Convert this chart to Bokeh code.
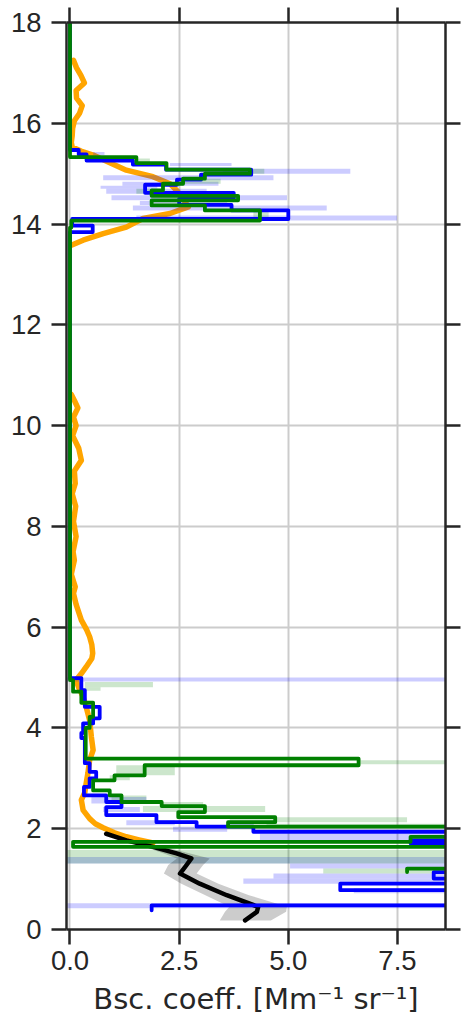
from bokeh.plotting import figure
from bokeh.models import Range1d, LinearAxis, FixedTicker
from bokeh.embed import file_html
from bokeh.resources import INLINE

# ---------------- data ----------------
x_ticks = [0.0, 2.5, 5.0, 7.5]
x_tick_labels = ["0.0", "2.5", "5.0", "7.5"]
y_ticks = [0, 2, 4, 6, 8, 10, 12, 14, 16, 18]
y_tick_labels = ["0", "2", "4", "6", "8", "10", "12", "14", "16", "18"]
x_label = "Bsc. coeff. [Mm\u207b\u00b9 sr\u207b\u00b9]"

# orange profile (continuous), NaN marks the hidden part
orange_y = [17.25, 17.10, 16.95, 16.80, 16.65, 16.50, 16.35, 16.20, 16.05, 15.90, 15.75, 15.62,
            15.53, 15.45, 15.37, 15.22, 15.07, 14.94, 14.80, 14.67, 14.50, 14.34, 14.21, 14.11,
            13.94, 13.81, 13.68, 13.58, float("nan"),
            10.62, 10.50, 10.35, 10.17, 10.00, 9.80, 9.55, 9.31, 9.10, 8.85, 8.65, 8.40, 8.10,
            7.80, 7.50, 7.33, 7.05, 6.80, 6.67, 6.45, 6.14, 5.95, 5.81, 5.65, 5.48, 5.38, 5.21,
            5.08, 4.95, 4.80, 4.62, 4.42, 4.15, 3.82, 3.56, 3.36, 3.10, 2.90, 2.72, 2.57, 2.37,
            2.20, 2.10, 2.02, 1.92, 1.84, 1.78, 1.72]
orange_x = [0.08, 0.15, 0.25, 0.33, 0.14, 0.15, 0.28, 0.22, 0.10, 0.06, 0.05, 0.03,
            0.05, 0.25, 0.53, 0.90, 1.29, 1.90, 2.29, 2.44, 2.59, 2.71, 2.29, 1.67,
            1.29, 0.76, 0.30, 0.03, float("nan"),
            0.03, 0.10, 0.18, 0.08, 0.14, 0.06, 0.20, 0.26, 0.10, 0.12, 0.05, 0.13, 0.08,
            0.14, 0.07, 0.10, 0.03, 0.12, 0.08, 0.14, 0.26, 0.38, 0.45, 0.50, 0.52, 0.50, 0.37,
            0.26, 0.14, 0.20, 0.30, 0.37, 0.45, 0.49, 0.53, 0.45, 0.41, 0.37, 0.34, 0.26, 0.30,
            0.45, 0.58, 0.76, 1.02, 1.29, 1.58, 1.90]

# black profile and its uncertainty band
black_y = [1.90, 1.77, 1.64, 1.51, 1.41, 1.28, 1.11, 0.91, 0.68, 0.45, 0.35, 0.18]
black_x = [0.83, 1.29, 1.90, 2.44, 2.78, 2.67, 2.52, 2.97, 3.59, 4.31, 4.28, 4.01]
band_lo = [0.75, 1.15, 1.70, 2.15, 2.45, 2.25, 2.15, 2.55, 3.10, 3.65, 3.55, 3.43]
band_hi = [0.95, 1.45, 2.15, 2.75, 3.20, 3.05, 2.90, 3.40, 4.10, 4.97, 4.95, 4.60]

# blue step profile: bin edges (km, top->bottom) and bin values
blue_edges = [18.0, 15.47, 15.38, 15.26, 15.18, 15.08, 14.98, 14.88, 14.78, 14.62, 14.50, 14.38,
              14.27, 14.10, 13.97, 13.84, 4.99, 4.75, 4.42, 4.19, 4.09, 3.90, 3.80, 3.30, 3.13,
              3.00, 2.83, 2.66, 2.53, 2.43, 2.27, 2.13, 2.04, 1.94, 1.77, 1.71, 1.14, 1.01, 0.91,
              0.78, 0.48, 0.38]
blue_vals = [0.0, 0.20, 0.38, 1.44, 2.20, 4.15, 3.00, 2.45, 1.72, 3.75, 2.50, 3.70,
             5.00, 0.05, 0.52, 0.0, 0.26, 0.34, 0.68, 0.53, 0.30, 0.26, 0.34, 0.45,
             0.60, 0.45, 0.32, 0.83, 1.18, 0.83, 1.98, 2.90, 4.20, 12.0, 7.80, 12.0,
             8.33, 12.0, 6.19, 12.0, 1.87]

# green step profile
green_edges = [18.0, 15.33, 15.21, 15.08, 15.00, 14.90, 14.80, 14.67, 14.56, 14.47, 14.37, 14.27,
               14.07, 13.93, 4.95, 4.72, 4.50, 4.22, 4.00, 3.39, 3.26, 3.06, 2.96, 2.76, 2.66,
               2.53, 2.45, 2.33, 2.23, 2.13, 2.04, 1.84, 1.74, 1.64, 1.21, 1.14]
green_vals = [0.0, 1.52, 2.21, 4.12, 3.09, 2.59, 2.13, 1.87, 3.85, 1.87, 3.09, 4.35,
              0.03, 0.0, 0.07, 0.26, 0.53, 0.45, 0.36, 6.61, 1.71, 1.02, 0.53, 0.91,
              1.18, 2.10, 3.09, 2.48, 4.70, 3.62, 12.0, 7.80, 0.07, 12.0, 7.72]

# light uncertainty bars: bottom, top, low, high
lb_bottom = [15.37, 15.15, 15.00, 14.87, 14.76, 14.70, 14.60, 14.47, 14.38, 14.27, 14.07,
             4.92, 2.50, 2.33, 2.07, 1.94, 1.77, 1.31, 1.21, 1.01, 0.91, 0.72, 0.42]
lb_top = [15.43, 15.21, 15.10, 14.97, 14.84, 14.76, 14.70, 14.57, 14.46, 14.37, 14.17,
          5.00, 2.63, 2.43, 2.17, 2.04, 1.90, 1.44, 1.31, 1.11, 1.01, 0.82, 0.52]
lb_low = [0.53, 2.29, 3.50, 0.76, 1.20, 0.70, 0.83, 0.95, 1.60, 1.44, 1.52,
          -1.0, 0.49, 0.76, 1.29, 2.36, 4.35, -1.0, 5.04, 4.66, 3.97, 6.50, -1.0]
lb_high = [0.79, 3.70, 6.42, 4.66, 3.40, 2.00, 3.13, 4.97, 3.60, 5.88, 7.49,
           12.0, 1.75, 1.60, 2.40, 3.60, 12.0, 12.0, 12.0, 12.0, 12.0, 12.0, 12.0]

lg_bottom = [15.23, 15.00, 14.80, 14.60, 14.10,
             4.81, 4.74, 3.28, 3.06, 2.96, 2.57, 2.45, 2.33, 2.13, 2.04, 1.44, 1.31, 1.11]
lg_top = [15.30, 15.10, 14.90, 14.70, 14.27,
          4.91, 4.81, 3.36, 3.26, 3.06, 2.66, 2.53, 2.45, 2.23, 2.10, 1.58, 1.44, 1.21]
lg_low = [1.48, 3.90, 2.60, 1.52, 4.20,
          0.34, 0.34, 6.65, 1.06, 0.91, 0.95, 2.06, 1.67, 3.66, 4.50, -1.0, -1.0, 5.80]
lg_high = [1.83, 4.45, 3.45, 1.90, 4.55,
           1.90, 0.70, 12.0, 2.40, 1.37, 1.75, 3.05, 4.47, 7.72, 12.0, 12.0, 12.0, 12.0]


def step_path(edges, vals):
    xs, ys = [], []
    for i, v in enumerate(vals):
        xs += [v, v]
        ys += [edges[i], edges[i + 1]]
    return xs, ys


# ---------------- figure ----------------
TXT = "#262626"
p = figure(width=462, height=1029, output_backend="svg", toolbar_location=None,
           x_range=Range1d(-0.08, 8.6), y_range=Range1d(0, 18),
           min_border_left=66, min_border_right=17, min_border_top=22, min_border_bottom=100,
           background_fill_color="white", border_fill_color="white")
p.outline_line_color = None

p.add_layout(LinearAxis(), "above")
p.add_layout(LinearAxis(), "right")

p.xaxis.ticker = FixedTicker(ticks=x_ticks)
p.yaxis.ticker = FixedTicker(ticks=y_ticks)
p.xgrid.ticker = FixedTicker(ticks=x_ticks)
p.ygrid.ticker = FixedTicker(ticks=y_ticks)
p.grid.grid_line_color = "#cccccc"
p.grid.grid_line_width = 2

for ax in p.xaxis + p.yaxis:
    ax.major_tick_in = 0
    ax.major_tick_out = 15
    ax.minor_tick_in = 0
    ax.minor_tick_out = 0
    ax.major_tick_line_width = 2.5
    ax.major_tick_line_color = TXT
    ax.axis_line_width = 2.5
    ax.axis_line_color = TXT
    ax.major_label_text_font = "Liberation Sans"
    ax.major_label_text_font_size = "27.5px"
    ax.major_label_text_color = TXT

bottom = p.below[0]
left = p.left[0]
top = p.above[0]
right = p.right[0]

bottom.major_label_overrides = {t: s for t, s in zip(x_ticks, x_tick_labels)}
left.major_label_overrides = {t: s for t, s in zip(y_ticks, y_tick_labels)}
bottom.major_label_standoff = 6
left.major_label_standoff = 10
bottom.axis_label = x_label
bottom.axis_label_text_font = "DejaVu Sans"
bottom.axis_label_text_font_size = "29px"
bottom.axis_label_text_font_style = "normal"
bottom.axis_label_text_color = TXT
bottom.axis_label_standoff = 9

# top / right: ticks only, labels not drawn
for ax in (top, right):
    ax.major_label_text_font_size = "1px"
    ax.major_label_text_color = None
    ax.major_label_standoff = 0

# orange profile
p.line(orange_x, orange_y, line_color="orange", line_width=5.5, line_join="round", line_cap="round")

# uncertainty bars
p.quad(left=lb_low, right=lb_high, bottom=lb_bottom, top=lb_top,
       fill_color="blue", fill_alpha=0.2, line_color=None)
p.quad(left=lg_low, right=lg_high, bottom=lg_bottom, top=lg_top,
       fill_color="green", fill_alpha=0.2, line_color=None)

# black profile with band
p.harea(x1=band_lo, x2=band_hi, y=black_y, fill_color="black", fill_alpha=0.2)
p.line(black_x, black_y, line_color="black", line_width=4.5, line_join="round", line_cap="round")

# step profiles
bx, by = step_path(blue_edges, blue_vals)
p.line(bx, by, line_color="#0000ff", line_width=3.8, line_join="round", line_cap="round")
gx, gy = step_path(green_edges, green_vals)
p.line(gx, gy, line_color="#008000", line_width=3.8, line_join="round", line_cap="round")

open("out.html", "w").write(file_html(p, INLINE))
